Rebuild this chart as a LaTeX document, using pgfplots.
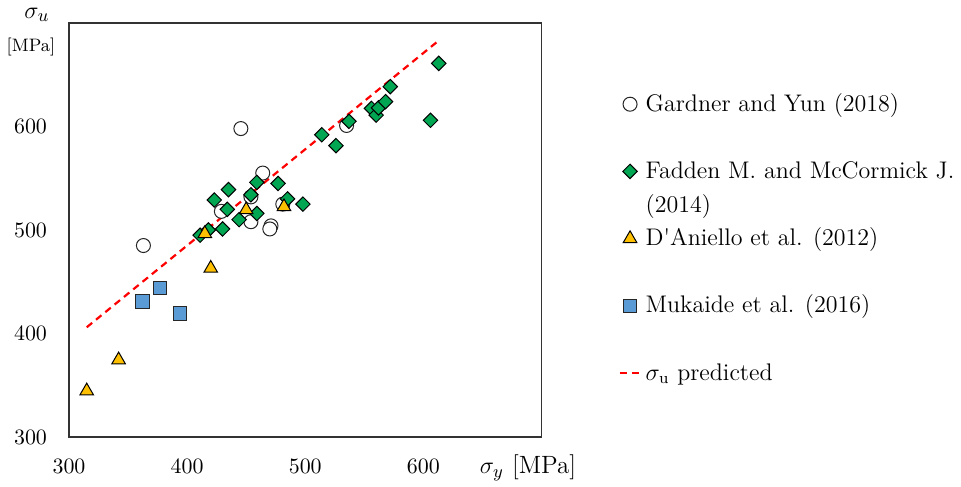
\documentclass[border=0pt]{standalone}
\usepackage{pgfplots}
\pgfplotsset{compat=1.18}
\definecolor{cgreen}{HTML}{00A651}
\definecolor{cblue}{HTML}{5B9BD5}
\definecolor{cgold}{HTML}{FFC000}
\begin{document}
\begin{tikzpicture}
\path[use as bounding box] (-34.5pt,-24.5pt) rectangle (446pt,218.5pt);
\begin{axis}[
  at={(0pt,0pt)}, anchor=south west,
  scale only axis, width=236.25pt, height=207pt,
  xmin=300, xmax=700, ymin=300, ymax=700,
  xtick={300,400,500,600}, ytick={300,400,500,600},
  major tick length=0pt,
  axis line style={black!80, line width=0.6pt},
  tick label style={font=\fontsize{11}{13}\selectfont},
  xticklabel style={yshift=-7.5pt},
  yticklabel style={xshift=-7.5pt},
  xlabel={$\sigma_y$ [MPa]},
  every axis x label/.style={at={(axis description cs:0,0)}, anchor=center, xshift=229.5pt, yshift=-15.5pt, font=\fontsize{12.5}{14}\selectfont},
  ylabel={$\sigma_u$},
  every axis y label/.style={at={(axis description cs:0,0)}, anchor=center, xshift=-16pt, yshift=211pt, font=\fontsize{13}{15}\selectfont},
  extra description/.code={\node[font=\fontsize{9}{11}\selectfont, anchor=center, xshift=-19pt, yshift=195pt] at (axis description cs:0,0) {[MPa]};},
  legend style={draw=none, fill=none, at={(rel axis cs:1.162,0.8454)}, anchor=north west, inner sep=0pt, nodes={inner xsep=2pt, inner ysep=0pt, text height=11.9pt, text depth=4.9pt, font=\fontsize{12}{14}\selectfont}},
  legend cell align=left,
  legend image code/.code={\draw[mark repeat=2,mark phase=2,#1] plot coordinates {(0pt,0pt)(5.25pt,0pt)(10.5pt,0pt)};},
]
% predicted line (behind markers)
\addplot[red, line width=1.1pt, dash pattern=on 3.5pt off 2.5pt, forget plot] coordinates {(315,406) (614,684)};

\addplot[only marks, mark=*, mark size=3.5pt, mark options={fill=white, draw=black!85, line width=0.5pt}] table {
x y
363 485
445.5 598
464 555
454 532
429 518
454 508
471 504
470 501
481 525
535 601
};
\addlegendentry{Gardner and Yun (2018)}
\addlegendimage{empty legend}\addlegendentry{\mbox{}}

\addplot[only marks, mark=square*, mark size=2.55pt, mark options={rotate=45, fill=cgreen, draw=black, line width=0.5pt}] table {
x y
411 495
418 500
423 529
430 501
434 520
435 539
444 510
454 534
459 546
459 516
477 545
485 530
498 525
514 592
526 581.5
537 605
556 617.5
560 611
562 618
568 624
572 638.5
606 606
613 661
};
\addlegendentry{Fadden M. and McCormick J.}
\addlegendimage{empty legend}\addlegendentry{(2014)}

\addplot[only marks, mark=triangle*, mark size=3.9pt, mark options={fill=cgold, draw=black, line width=0.5pt}] table {
x y
315 344.5
342 374.5
415 496.5
420 463
450 519.5
482 522.5
};
\addlegendentry{D\textquotesingle Aniello et al. (2012)}
\addlegendimage{empty legend}\addlegendentry{\mbox{}}

\addplot[only marks, mark=square*, mark size=3.4pt, mark options={fill=cblue, draw=black!85, line width=0.5pt}] table {
x y
362 431
377 444
394 419.5
};
\addlegendentry{Mukaide et al. (2016)}
\addlegendimage{empty legend}\addlegendentry{\mbox{}}

\addlegendimage{red, line width=1.1pt, dash pattern=on 3.5pt off 2.5pt}
\addlegendentry{$\sigma_{\mathrm{u}}$ predicted}
\end{axis}
\end{tikzpicture}
\end{document}
